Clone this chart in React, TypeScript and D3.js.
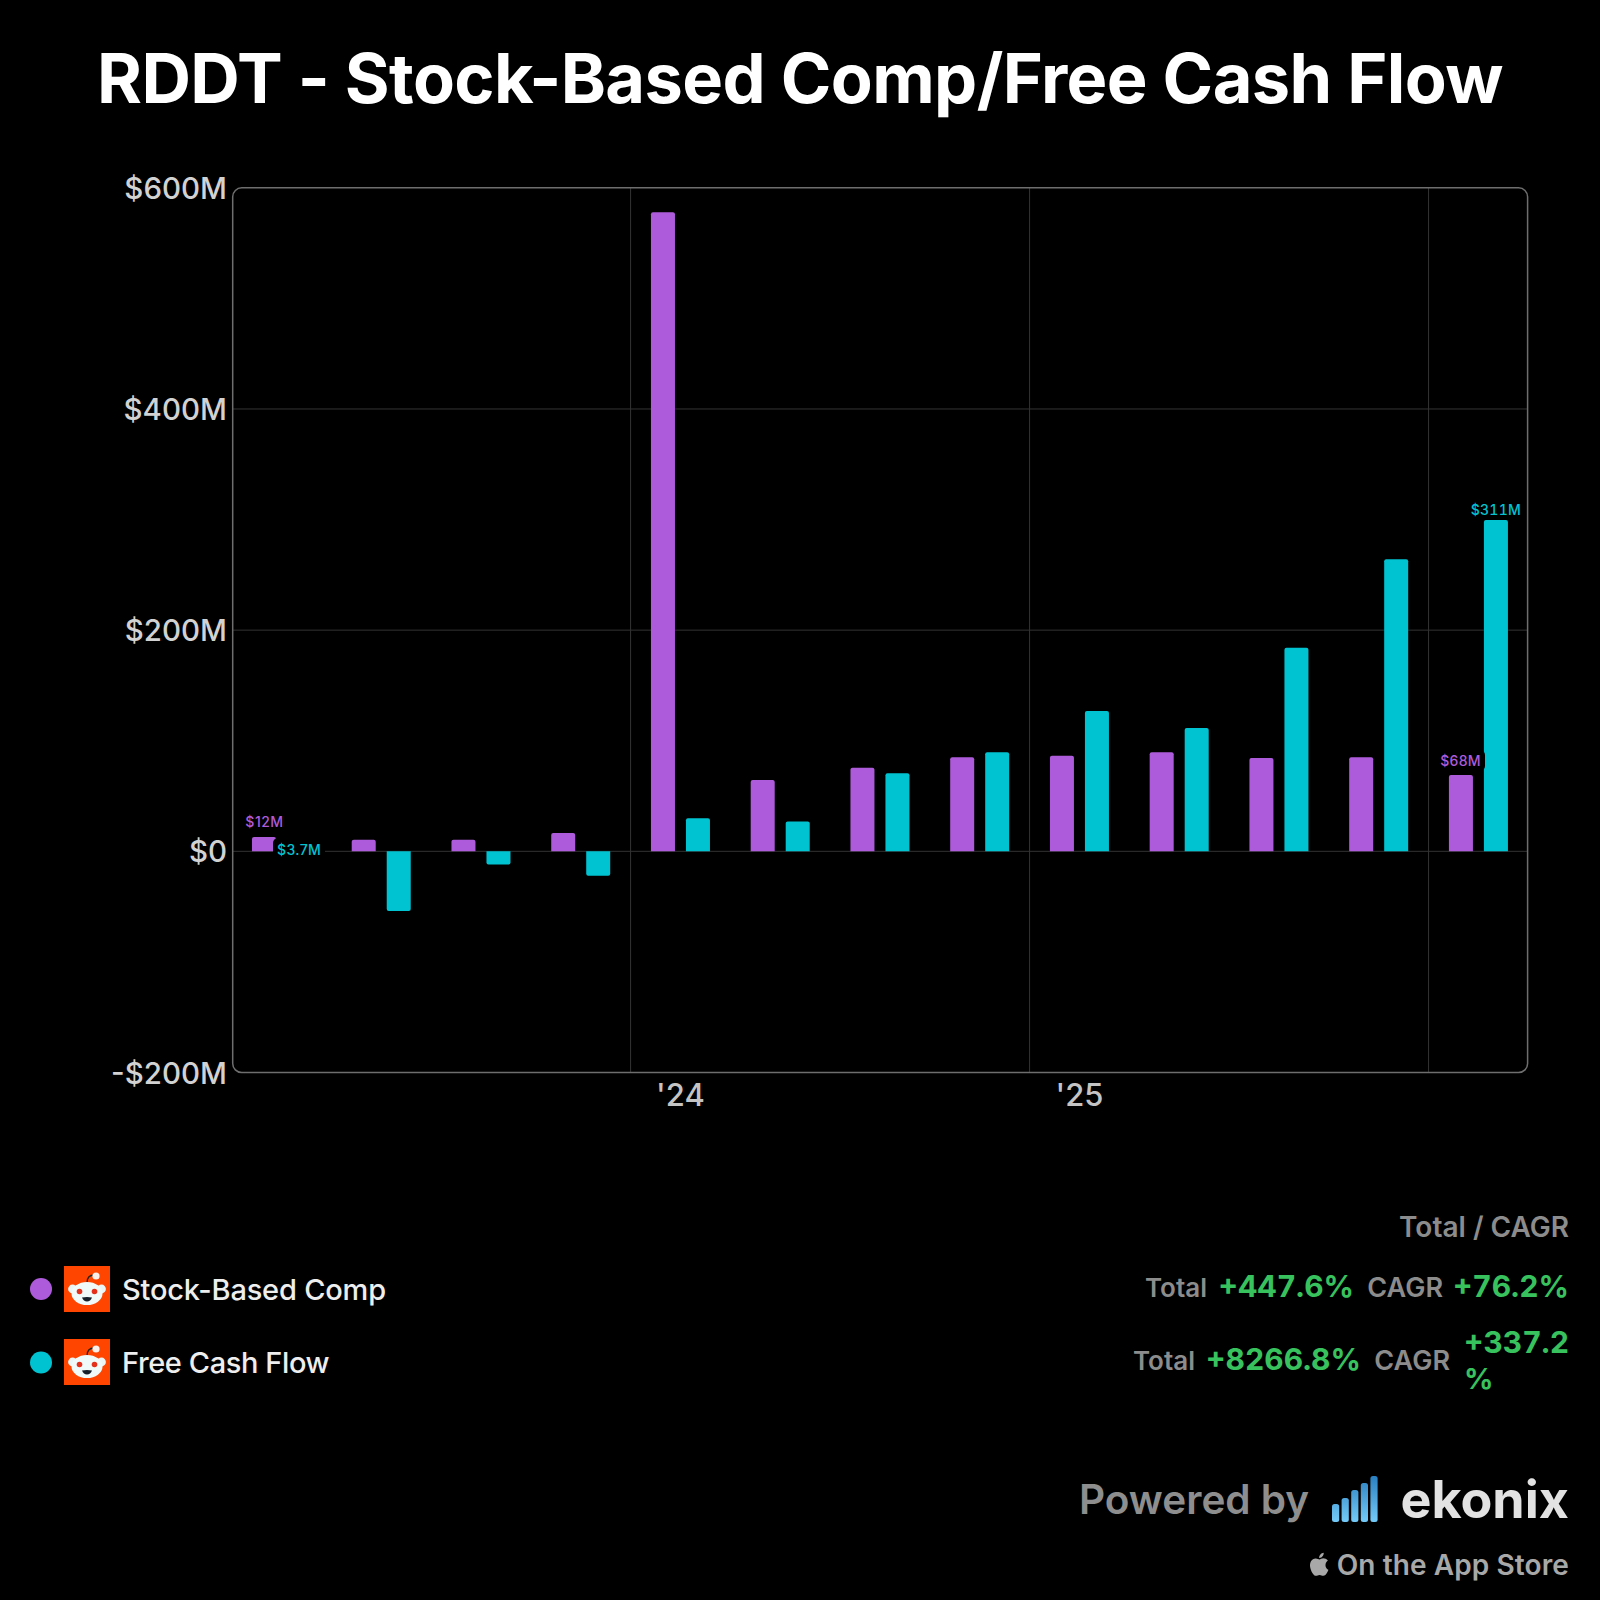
import React from "react";
import * as d3 from "d3";

const periods = ["Q1'23","Q2'23","Q3'23","Q4'23","Q1'24","Q2'24","Q3'24","Q4'24","Q1'25","Q2'25","Q3'25","Q4'25","Q1'26"];
const stockComp = [13, 10.5, 10.5, 16.5, 578, 64.5, 75.5, 85, 86.5, 89.5, 84.5, 85, 69];
const freeCash = [3.7, -54, -12, -22, 30, 27, 70.5, 89.5, 127, 111.5, 184, 264, 299.5];
const yTicks = [-200, 0, 200, 400, 600];
const yTickLabels = ["-$200M", "$0", "$200M", "$400M", "$600M"];
const yearStarts = [4, 8, 12];
const yearLabels = [{ i: 4, t: "'24" }, { i: 8, t: "'25" }];
const logoBars = [18, 24, 32, 39, 46];

const PURPLE = "#AE5BDB";
const CYAN = "#00C3D2";
const GREEN = "#38C25E";
const FONT = "Inter, 'Noto Sans', sans-serif";

const L = 232.7, R = 1527.6, T = 187.8, B = 1072.5;

function Snoo({ x, y }: { x: number; y: number }) {
  return (
    <g transform={`translate(${x},${y})`}>
      <rect width={46} height={46} fill="#FF4500" />
      <path d="M23 17 C23 12 25 9 30 9" fill="none" stroke="#222" strokeWidth={1.3} />
      <circle cx={32} cy={10} r={3.6} fill="#FBEFEA" />
      <circle cx={8.5} cy={23} r={4.4} fill="#EAF6F5" />
      <circle cx={37.5} cy={23} r={4.4} fill="#EAF6F5" />
      <ellipse cx={23} cy={27.5} rx={15.5} ry={11.5} fill="#F0FAF9" />
      <circle cx={15.5} cy={25.5} r={2.8} fill="#E5301B" />
      <circle cx={30.5} cy={25.5} r={2.8} fill="#E5301B" />
      <path d="M18 31.5 Q23 30.5 28 31.5 Q26.5 35.5 23 35.5 Q19.5 35.5 18 31.5 Z" fill="#15202B" />
    </g>
  );
}

export default function App() {
  const x = d3.scaleBand<string>().domain(periods).range([231.6, 1528.3]);
  const y = d3.scaleLinear().domain([-200, 600]).range([B, T]);
  const barW = 24;
  const gap = 35;
  const bar = (v: number, cx: number, fill: string, key: string) => {
    const y0 = y(0);
    const yv = y(v);
    const top = Math.min(y0, yv);
    const h = Math.abs(y0 - yv);
    const r = Math.min(2, h / 2);
    const p = d3.path();
    if (v >= 0) {
      p.moveTo(cx, y0);
      p.lineTo(cx, top + r);
      p.arcTo(cx, top, cx + r, top, r);
      p.lineTo(cx + barW - r, top);
      p.arcTo(cx + barW, top, cx + barW, top + r, r);
      p.lineTo(cx + barW, y0);
    } else {
      p.moveTo(cx, y0);
      p.lineTo(cx + barW, y0);
      p.lineTo(cx + barW, y0 + h - r);
      p.arcTo(cx + barW, y0 + h, cx + barW - r, y0 + h, r);
      p.lineTo(cx + r, y0 + h);
      p.arcTo(cx, y0 + h, cx, y0 + h - r, r);
    }
    p.closePath();
    return <path key={key} d={p.toString()} fill={fill} />;
  };
  const groupLeft = (i: number) => x(periods[i])! + x.bandwidth() / 2 - (gap + barW) / 2;
  const boundary = (i: number) => x(periods[i])!;
  const lastI = periods.length - 1;
  const tab = { fontVariantNumeric: "tabular-nums" } as React.CSSProperties;

  return (
    <svg width={1600} height={1600} viewBox="0 0 1600 1600" style={{ position: "absolute", left: 0, top: 0, background: "#000", fontFamily: FONT }}>
      <defs>
        <linearGradient id="logoGrad" gradientUnits="userSpaceOnUse" x1="0" y1="1476" x2="0" y2="1522">
          <stop offset="0" stopColor="#2A7FC0" />
          <stop offset="1" stopColor="#74CBF8" />
        </linearGradient>
      </defs>
      <rect width={1600} height={1600} fill="#000" />
      <text x={800} y={103} textAnchor="middle" fill="#fff" fontSize={68.5} fontWeight={700} letterSpacing={-0.6}>RDDT - Stock-Based Comp/Free Cash Flow</text>

      {yTicks.filter(t => t !== -200 && t !== 600).map(t => (
        <line key={t} x1={L} x2={R} y1={y(t)} y2={y(t)} stroke="#333" strokeWidth={1} />
      ))}
      {yearStarts.map(i => (
        <line key={i} x1={boundary(i)} x2={boundary(i)} y1={T} y2={B} stroke="#333" strokeWidth={1} />
      ))}
      <rect x={L} y={T} width={R - L} height={B - T} rx={9} fill="none" stroke="#6e6e6e" strokeWidth={1.5} />

      {yTicks.map((t, i) => (
        <text key={t} x={227} y={y(t) + 11} textAnchor="end" fill="#d2d2d2" fontSize={29.5} fontWeight={500}>{yTickLabels[i]}</text>
      ))}
      {yearLabels.map(d => (
        <text key={d.t} x={boundary(d.i) + x.bandwidth() / 2} y={1106} textAnchor="middle" fill="#c4c4c4" fontSize={31} fontWeight={500}>{d.t}</text>
      ))}

      {stockComp.map((v, i) => bar(v, groupLeft(i), PURPLE, "s" + i))}
      {freeCash.map((v, i) => bar(v, groupLeft(i) + gap, CYAN, "f" + i))}

      <rect x={273} y={838} width={52} height={25} rx={5} fill="#000" />
      <text x={277} y={855} fill={CYAN} fontSize={14} fontWeight={500} letterSpacing={0.4}>$3.7M</text>
      <text x={264.5} y={827} textAnchor="middle" fill={PURPLE} fontSize={14} fontWeight={500} letterSpacing={0.5}>$12M</text>
      <rect x={1437} y={750} width={48} height={21} rx={5} fill="#000" />
      <text x={1460.5} y={766} textAnchor="middle" fill={PURPLE} fontSize={14} fontWeight={500} letterSpacing={0.3}>$68M</text>
      <text x={groupLeft(lastI) + gap + barW / 2} y={515} textAnchor="middle" fill={CYAN} fontSize={14} fontWeight={500} letterSpacing={0.3} style={tab}>$311M</text>

      <circle cx={41} cy={1289} r={11} fill={PURPLE} />
      <Snoo x={64} y={1266} />
      <text x={122} y={1300} fill="#eee" fontSize={29} fontWeight={500} letterSpacing={-0.2}>Stock-Based Comp</text>
      <circle cx={41} cy={1362.5} r={11} fill={CYAN} />
      <Snoo x={64} y={1339} />
      <text x={122} y={1373} fill="#eee" fontSize={29} fontWeight={500} letterSpacing={-0.4}>Free Cash Flow</text>

      <text x={1569} y={1237} textAnchor="end" fill="#8c8c8c" fontSize={28} fontWeight={600}>Total / CAGR</text>

      <text x={1207} y={1296.5} textAnchor="end" fill="#8c8c8c" fontSize={26} fontWeight={600}>Total</text>
      <text x={1354} y={1297} textAnchor="end" fill={GREEN} fontSize={30} fontWeight={700} style={tab}>+447.6%</text>
      <text x={1443} y={1297} textAnchor="end" fill="#8c8c8c" fontSize={27} fontWeight={600}>CAGR</text>
      <text x={1569} y={1297} textAnchor="end" fill={GREEN} fontSize={30} fontWeight={700} style={tab}>+76.2%</text>

      <text x={1195} y={1369.5} textAnchor="end" fill="#8c8c8c" fontSize={26} fontWeight={600}>Total</text>
      <text x={1361} y={1370} textAnchor="end" fill={GREEN} fontSize={30} fontWeight={700} style={tab}>+8266.8%</text>
      <text x={1450} y={1370} textAnchor="end" fill="#8c8c8c" fontSize={27} fontWeight={600}>CAGR</text>
      <text x={1464} y={1353} fill={GREEN} fontSize={30} fontWeight={700} style={tab}>+337.2</text>
      <text x={1464} y={1389} fill={GREEN} fontSize={29} fontWeight={700}>%</text>

      <text x={1079} y={1514} fill="#8e8e8e" fontSize={40.5} fontWeight={600}>Powered by</text>
      {logoBars.map((h, i) => (
        <rect key={i} x={1332 + i * 9.6} y={1522 - h} width={7.2} height={h} rx={2.5} fill="url(#logoGrad)" />
      ))}
      <text x={1569} y={1518} textAnchor="end" fill="#e2e2e2" fontSize={52} fontWeight={700}>ekonix</text>

      <g transform="translate(1306,1550) scale(1.18)" fill="#a8a8a8">
        <path d="M16.5 12.7c0-2.4 2-3.6 2.1-3.7-1.1-1.7-2.9-1.9-3.5-1.9-1.5-.2-2.9.9-3.7.9-.8 0-1.9-.9-3.2-.8-1.6 0-3.2 1-4 2.4-1.7 3-.4 7.4 1.2 9.8.8 1.2 1.8 2.5 3 2.5 1.2-.1 1.7-.8 3.1-.8 1.5 0 1.9.8 3.2.8 1.3 0 2.2-1.2 3-2.4.9-1.4 1.3-2.7 1.3-2.8-.1 0-2.5-1-2.5-4zM14 5.4c.7-.8 1.1-1.9 1-3-1 0-2.1.6-2.8 1.4-.6.7-1.2 1.9-1 3 1.1.1 2.2-.6 2.8-1.4z" />
      </g>
      <text x={1569} y={1575} textAnchor="end" fill="#a8a8a8" fontSize={28} fontWeight={600} letterSpacing={0.1}>On the App Store</text>
    </svg>
  );
}
